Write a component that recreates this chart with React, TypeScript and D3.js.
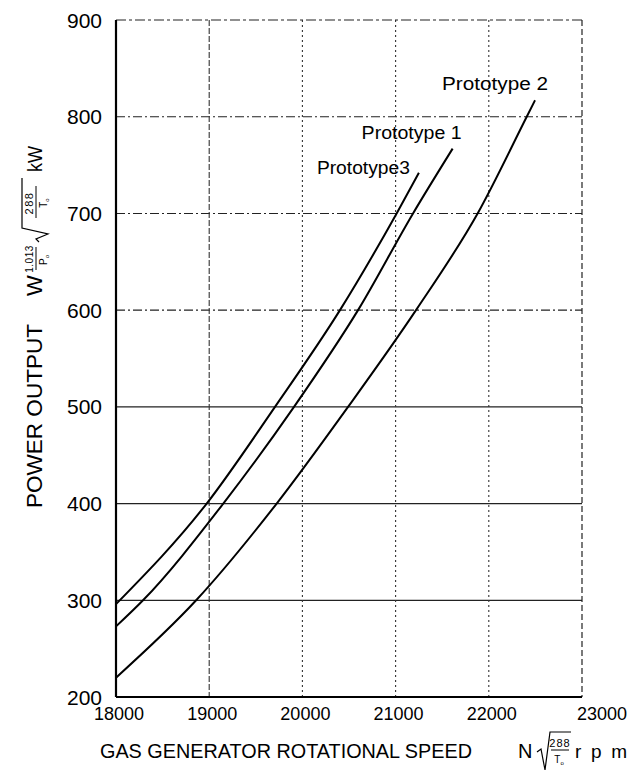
import * as React from 'react'
import { scaleLinear, line, curveMonotoneX } from 'd3'

const speedTicks = [18000, 19000, 20000, 21000, 22000, 23000]
const powerTicks = [200, 300, 400, 500, 600, 700, 800, 900]
const speedTickLabels = ['18000', '19000', '20000', '21000', '22000', '23000']

// (rpm, kW)
const speedP1 = [18000, 18290, 19151, 19910, 20597, 21187, 21612]
const powerP1 = [273, 300, 400, 500, 600, 700, 767]
const speedP2 = [18000, 18860, 19724, 20490, 21219, 21880, 22407, 22496]
const powerP2 = [220, 300, 400, 500, 600, 700, 800, 817]
const speedP3 = [18000, 18973, 19706, 20403, 21011, 21250]
const powerP3 = [296, 400, 500, 600, 700, 742]

const seriesNames = ['Prototype 1', 'Prototype 2', 'Prototype3']

const width = 630
const height = 774
const font = '"Liberation Sans", Arial, sans-serif'

const x = scaleLinear().domain([18000, 23000]).range([116, 582])
const y = scaleLinear().domain([200, 900]).range([697, 20])

type Pt = [number, number]

const zip = (s: number[], p: number[]): Pt[] => s.map((v, i) => [v, p[i]])

const series = [
  { name: seriesNames[0], pts: zip(speedP1, powerP1), dx: -91, dy: -10, len: 100 },
  { name: seriesNames[1], pts: zip(speedP2, powerP2), dx: -93, dy: -10, len: 106 },
  { name: seriesNames[2], pts: zip(speedP3, powerP3), dx: -102, dy: 1, len: 93 },
]

const makeLine = line<Pt>()
  .x((d) => x(d[0]))
  .y((d) => y(d[1]))
  .curve(curveMonotoneX)

function App() {
  const x0 = x(18000)
  const x1 = x(23000)
  const yTop = y(900)
  const yBot = y(200)
  const lastTick = speedTicks.length - 1

  return (
    <svg
      width={width}
      height={height}
      style={{ position: 'absolute', left: 0, top: 0, background: '#fff' }}
      fontFamily={font}
    >
      <rect width={width} height={height} fill="#fff" />

      {/* grid */}
      {powerTicks.slice(1, -1).map((p) => (
        <line
          key={'h' + p}
          x1={x0}
          x2={x1}
          y1={y(p)}
          y2={y(p)}
          stroke="#222"
          strokeWidth={p <= 500 ? 1.3 : 1.1}
          strokeDasharray={p <= 500 ? undefined : '9 3 2 3'}
        />
      ))}
      {speedTicks.slice(1, -1).map((s) => (
        <line
          key={'v' + s}
          x1={x(s)}
          x2={x(s)}
          y1={yTop}
          y2={yBot}
          stroke="#333"
          strokeWidth={1.1}
          strokeDasharray={s === 19000 ? '6 2' : '2 3'}
        />
      ))}
      {/* frame */}
      <line x1={x0} x2={x1} y1={yTop} y2={yTop} stroke="#222" strokeWidth={1.2} strokeDasharray="10 3 3 3" />
      <line x1={x1} x2={x1} y1={yTop} y2={yBot} stroke="#222" strokeWidth={1.2} strokeDasharray="6 3" />
      <line x1={x0} x2={x0} y1={yTop} y2={yBot} stroke="#000" strokeWidth={2.2} />
      <line x1={x0} x2={x1} y1={yBot} y2={yBot} stroke="#000" strokeWidth={2.2} />

      {/* curves */}
      {series.map((s) => (
        <path key={s.name} d={makeLine(s.pts) ?? ''} fill="none" stroke="#000" strokeWidth={2} />
      ))}
      {series.map((s) => {
        const last = s.pts[s.pts.length - 1]
        return (
          <text
            key={s.name + 'l'}
            x={x(last[0]) + s.dx}
            y={y(last[1]) + s.dy}
            fontSize={18}
            textLength={s.len}
            lengthAdjust="spacingAndGlyphs"
          >
            {s.name}
          </text>
        )
      })}

      {/* y ticks */}
      {powerTicks.map((p) => (
        <text key={'yt' + p} x={102} y={y(p)} dy="0.36em" fontSize={21} textAnchor="end">
          {p}
        </text>
      ))}
      {/* x ticks */}
      {speedTicks.map((s, i) => (
        <text
          key={'xt' + s}
          x={i === lastTick ? width - 3 : x(s) + 3}
          y={720}
          fontSize={18}
          textAnchor={i === lastTick ? 'end' : 'middle'}
        >
          {speedTickLabels[i]}
        </text>
      ))}

      {/* x axis title */}
      <g fill="#000">
        <text x={100} y={758} fontSize={20} textLength={372} lengthAdjust="spacingAndGlyphs">
          GAS GENERATOR ROTATIONAL SPEED
        </text>
        <text x={518} y={758} fontSize={20}>N</text>
        <path d="M537,752 L541,749 L545,770 L550,732 L571,732" fill="none" stroke="#000" strokeWidth={1.2} />
        <text x={560} y={747} fontSize={11} textAnchor="middle" letterSpacing={1}>288</text>
        <line x1={551} x2={569} y1={750} y2={750} stroke="#000" strokeWidth={1} />
        <text x={559} y={763} fontSize={10} textAnchor="middle">
          T<tspan fontSize={6} dy={2}>o</tspan>
        </text>
        <text x={575} y={758} fontSize={19} textLength={52} lengthAdjust="spacing">r p m</text>
      </g>

      {/* y axis title */}
      <g transform="translate(42,508) rotate(-90)" fill="#000">
        <text x={0} y={0} fontSize={22} textLength={184} lengthAdjust="spacingAndGlyphs">
          POWER OUTPUT
        </text>
        <text x={212} y={0} fontSize={22}>W</text>
        <text x={249} y={-9} fontSize={10} textAnchor="middle" letterSpacing={0.5}>1.013</text>
        <line x1={238} x2={261} y1={-6} y2={-6} stroke="#000" strokeWidth={1} />
        <text x={248} y={5} fontSize={10} textAnchor="middle">
          P<tspan fontSize={6} dy={2}>o</tspan>
        </text>
        <path d="M266,-3 L269,-6 L274,6 L280,-20 L330,-20" fill="none" stroke="#000" strokeWidth={1.2} />
        <text x={305} y={-9} fontSize={11} textAnchor="middle" letterSpacing={1.5}>288</text>
        <line x1={290} x2={322} y1={-6} y2={-6} stroke="#000" strokeWidth={1} />
        <text x={305} y={5} fontSize={10} textAnchor="middle">
          T<tspan fontSize={6} dy={2}>o</tspan>
        </text>
        <text x={336} y={0} fontSize={20} textLength={26} lengthAdjust="spacingAndGlyphs">kW</text>
      </g>
    </svg>
  )
}

export default App
